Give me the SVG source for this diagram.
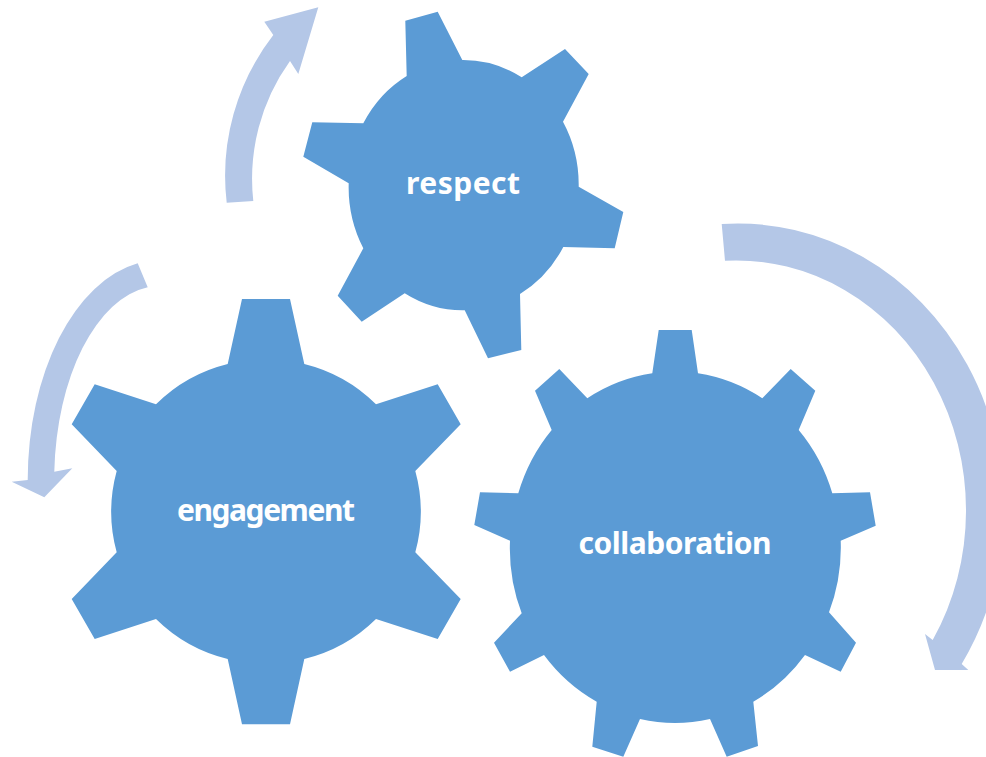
<svg xmlns="http://www.w3.org/2000/svg" width="986" height="757" viewBox="0 0 986 757">
<style>
.gear{fill:#5B9BD5;stroke:none}
.arrow{fill:#B4C7E7;stroke:none}
.lbl{font-family:"Comic Sans MS","Noto Sans","DejaVu Sans",sans-serif;font-weight:bold;font-size:30px;fill:#FFFFFF;text-anchor:middle}
</style>
<rect width="986" height="757" fill="#FFFFFF"/>
<g id="connectors">
<path id="arrow-up" class="arrow" d="M 226.7 202.7 A 229.5 229.5 0 0 1 273.3 35 L 264.3 21.7 L 318.3 7.3 L 298.3 74 L 290 61 A 202 202 0 0 0 253.3 201 Z"/>
<path id="arrow-left" class="arrow" d="M 137.7 263.3 A 132.3 220 0 0 0 27.7 480 L 11.7 481.7 L 44.3 497.3 L 72.3 468.3 L 54.3 471.7 A 106 194 0 0 1 147.7 287.3 Z"/>
<path id="arrow-right" class="arrow" d="M 721.7 224 A 266 286 0 0 1 961.7 664 L 968.3 670 L 935 670 L 925 634 L 932.7 640 A 230 250 0 0 0 725 260.7 Z"/>
</g>
<g id="respect">
<path class="gear" d="M 406.7 76 L 405.3 20.7 L 437.7 11.7 L 462.3 60 A 115 125 0 0 1 521.7 77.3 L 565 49 L 588.7 74 L 563 121.7 A 115 125 0 0 1 578.7 186.7 L 623.3 212 L 614.7 248.3 L 563.3 247 A 115 125 0 0 1 520 294 L 521.3 350 L 488 358.3 L 464.7 310.3 A 115 125 0 0 1 404.7 293.3 L 361.7 321.7 L 337.7 295.7 L 363.3 248.3 A 115 125 0 0 1 348.7 183.3 L 303.3 156.7 L 312.3 122.3 L 363.3 123.3 A 115 125 0 0 1 406.7 76 Z"/>
<text class="lbl" x="463" y="193.5" textLength="114" lengthAdjust="spacing">respect</text>
</g>
<g id="engagement">
<path class="gear" d="M 227.7 364 L 242 299 L 290 299 L 304.3 364 A 154 154 0 0 1 376 404.3 L 437.7 384.3 L 460.7 424.3 L 415.3 471 A 154 154 0 0 1 415.3 552.3 L 460.7 599 L 437.7 639 L 376 619 A 154 154 0 0 1 304.3 659 L 290 724.3 L 242 724.3 L 227.7 659 A 154 154 0 0 1 156 619 L 94.7 639 L 71.7 599 L 116.7 552.3 A 154 154 0 0 1 116.7 471 L 71.7 424.3 L 94.7 384.3 L 156 404.3 A 154 154 0 0 1 227.7 364 Z"/>
<text class="lbl" x="266" y="521" textLength="178" lengthAdjust="spacing">engagement</text>
</g>
<g id="collaboration">
<path class="gear" d="M 652.3 373.3 L 658.7 330 L 691.7 330 L 698 373.3 A 165 174 0 0 1 762.3 398.3 L 790.7 369 L 815.3 390.7 L 798.7 430 A 165 174 0 0 1 832.3 493.3 L 870 492.3 L 875.7 525.7 L 840.7 540.7 A 165 174 0 0 1 829 612.3 L 856 642.7 L 840.7 671.7 L 805 655 A 165 174 0 0 1 753.3 701.7 L 758 746 L 726.7 756.7 L 710 719 A 165 174 0 0 1 640 719 L 623.3 756.7 L 592.3 746.7 L 596.7 701.7 A 165 174 0 0 1 544 655 L 510 671.7 L 494 642.7 L 521.7 613.3 A 165 174 0 0 1 510 540.7 L 474.3 525 L 480 492.3 L 518.3 493.3 A 165 174 0 0 1 551.7 430 L 535 390.7 L 559.3 369 L 587.3 398.3 A 165 174 0 0 1 652.3 373.3 Z"/>
<text class="lbl" x="675" y="554" textLength="193" lengthAdjust="spacing">collaboration</text>
</g>
</svg>
